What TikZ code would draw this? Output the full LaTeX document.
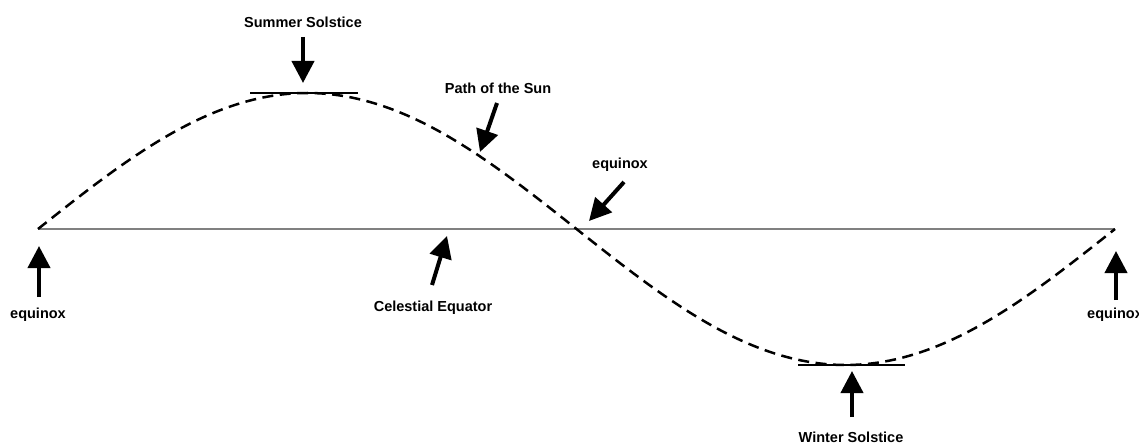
\documentclass[tikz,border=0pt]{standalone}
\usepackage{fontspec}
\setmainfont{Liberation Sans}
\usetikzlibrary{arrows.meta}

\begin{document}
\begin{tikzpicture}[x=1pt,y=-1pt,
  lbl/.style={font=\fontsize{14.5}{17}\selectfont\bfseries,inner sep=0pt},
  pointer/.style={line width=4pt,-{Triangle[width=22pt,length=22pt]}},
  bar/.style={line width=2pt},
  sunpath/.style={line width=2.5pt,dash pattern=on 11pt off 6.5pt}]
\useasboundingbox (0,0) rectangle (1139,446);
% equator and path of the sun
\coordinate (e1) at (38,229);
\coordinate (top) at (307.25,93);
\coordinate (e2) at (576.5,229);
\coordinate (bot) at (845.75,365);
\coordinate (e3) at (1115,229);
\draw[black!50,line width=1.6pt] (e1)--(e3);
\draw[sunpath] (e1) sin (top) cos (e2) sin (bot) cos (e3);
% solstice bars
\draw[bar] (250,93)--(358,93);
\draw[bar] (798,365)--(905,365);
% labels
\node[lbl] (ss) at (303,22) {Summer Solstice};
\node[lbl] (ps) at (498,88) {Path of the Sun};
\node[lbl] (eqm) at (620,165) {equinox};
\node[lbl] (eql) at (38,315) {equinox};
\node[lbl] (ce) at (433,308) {Celestial Equator};
\node[lbl] (eqr) at (1115,315) {equinox};
\node[lbl] (ws) at (851,437) {Winter Solstice};
% pointers
\coordinate (ss1) at (303,37);
\coordinate (ss2) at (303,83);
\coordinate (ps1) at (497,103);
\coordinate (ps2) at (480,152);
\coordinate (eqm1) at (624,182);
\coordinate (eqm2) at (589,221);
\coordinate (eql1) at (39,297);
\coordinate (eql2) at (39,246);
\coordinate (ce1) at (432,285);
\coordinate (ce2) at (447,236);
\coordinate (eqr1) at (1116,300);
\coordinate (eqr2) at (1116,251);
\coordinate (ws1) at (852,417);
\coordinate (ws2) at (852,371);
\draw[pointer] (ss1)--(ss2);
\draw[pointer] (ps1)--(ps2);
\draw[pointer] (eqm1)--(eqm2);
\draw[pointer] (eql1)--(eql2);
\draw[pointer] (ce1)--(ce2);
\draw[pointer] (eqr1)--(eqr2);
\draw[pointer] (ws1)--(ws2);
\end{tikzpicture}
\end{document}
